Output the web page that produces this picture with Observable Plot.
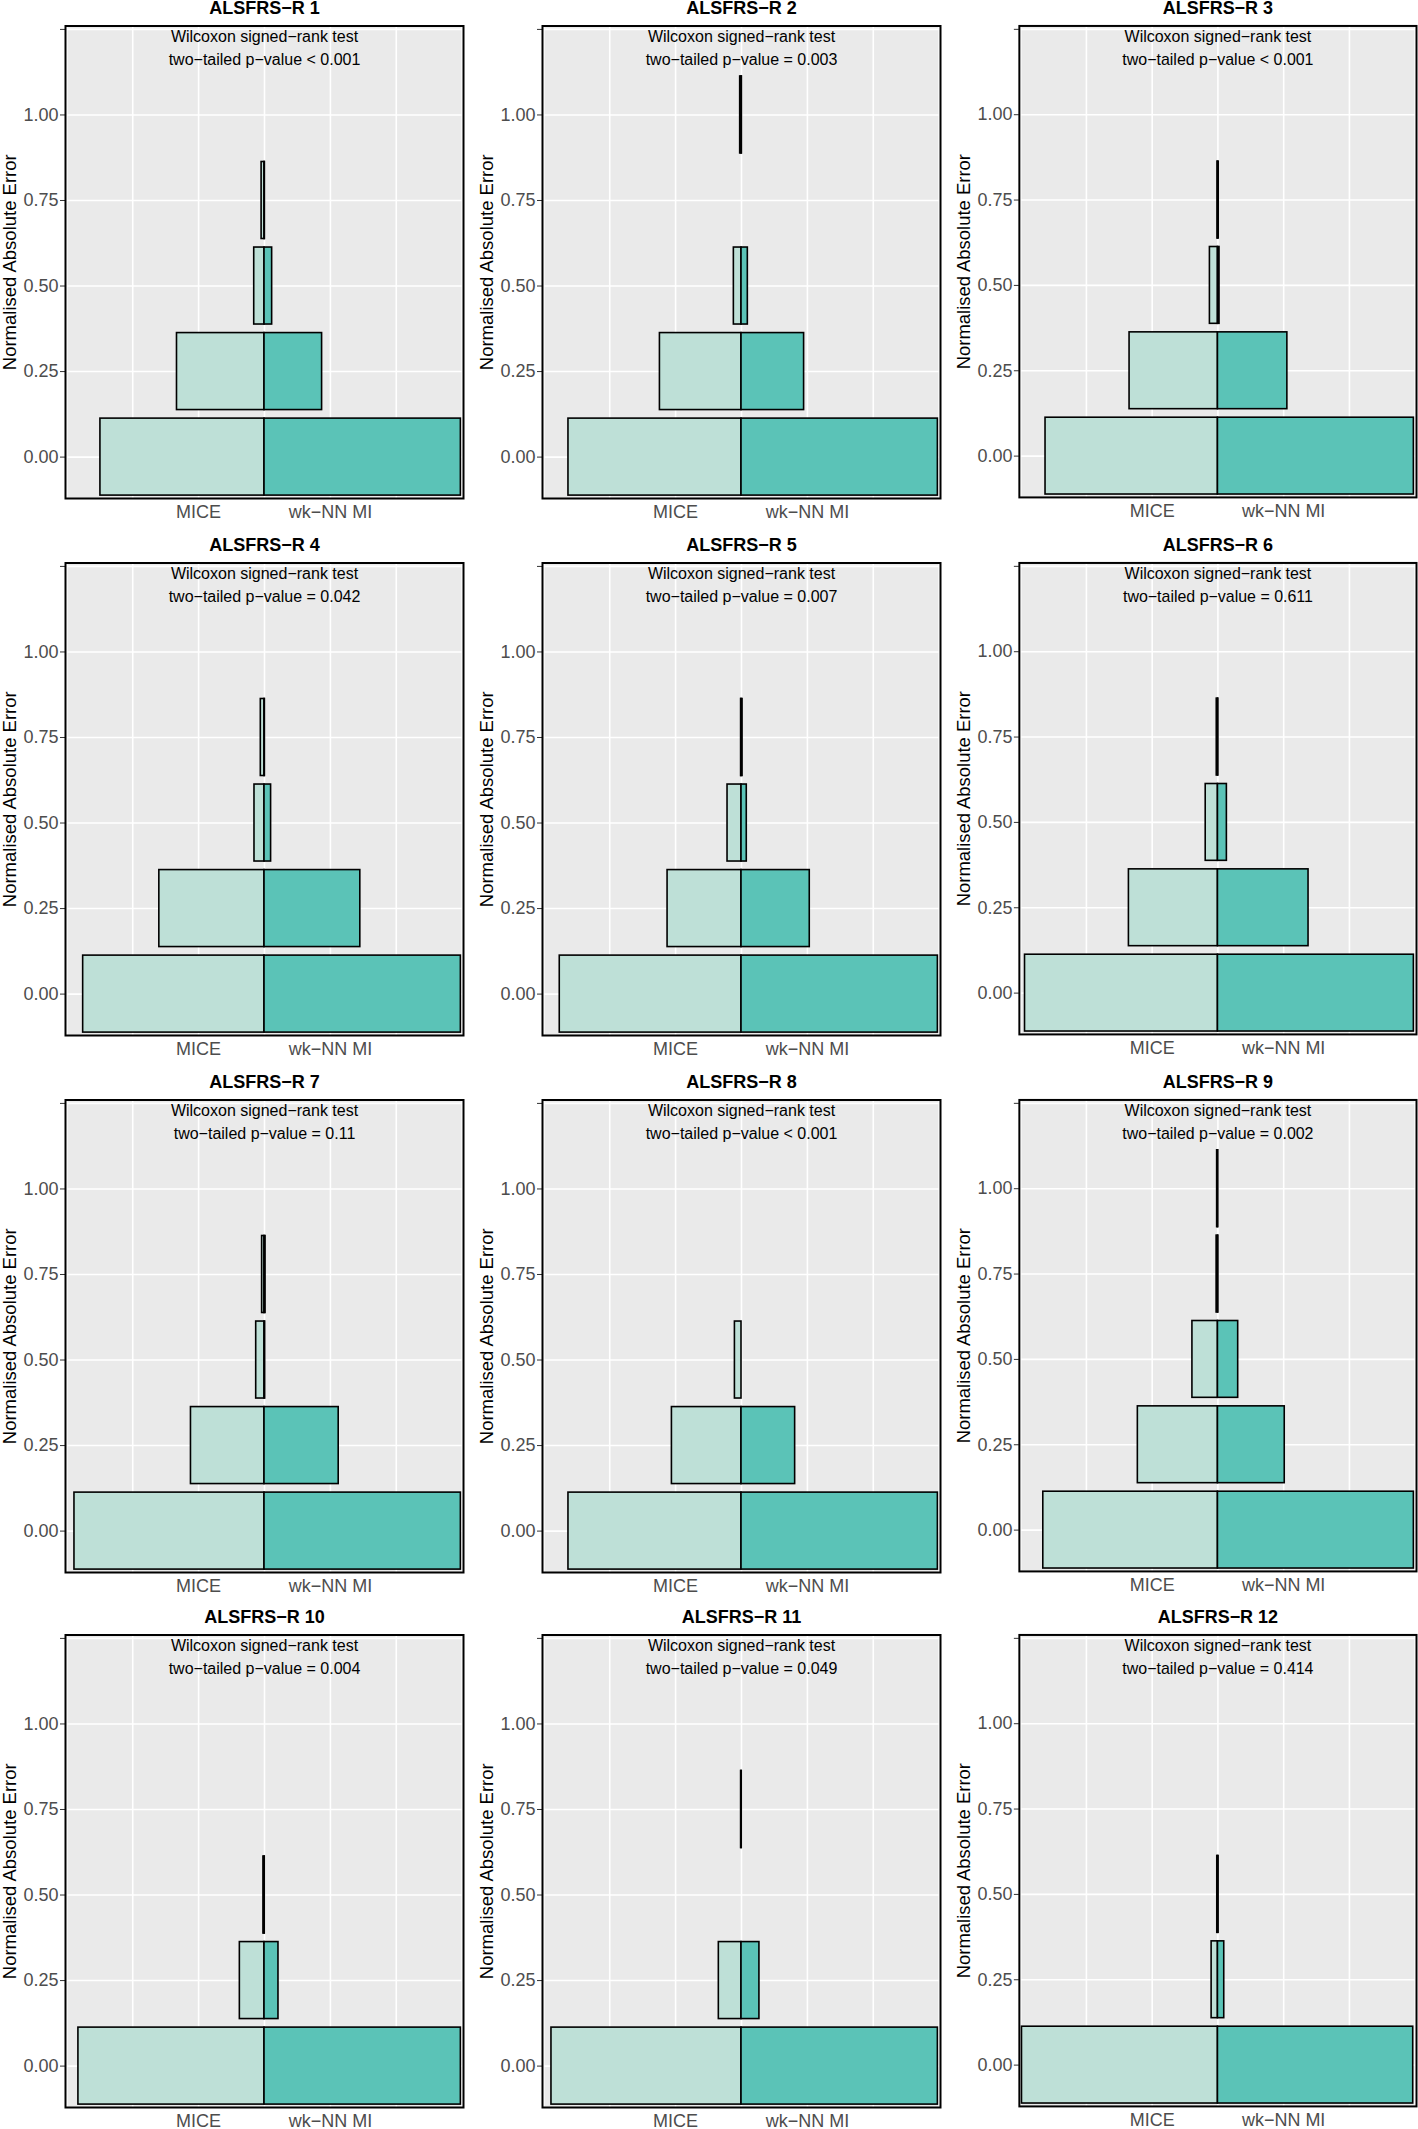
<!DOCTYPE html>
<html>
<head>
<meta charset="utf-8">
<script src="https://cdn.jsdelivr.net/npm/d3@7"></script>
<script src="https://cdn.jsdelivr.net/npm/@observablehq/plot@0.6"></script>
<style>
  html, body { margin: 0; padding: 0; background: #ffffff; width: 1418px; height: 2129px; overflow: hidden; }
  #root { position: relative; width: 1418px; height: 2129px; overflow: hidden; }
  .cell { position: absolute; }
</style>
</head>
<body>
<div id="root"></div>
<script>
// ---- data ----
const items = ["ALSFRS−R 1", "ALSFRS−R 2", "ALSFRS−R 3", "ALSFRS−R 4", "ALSFRS−R 5", "ALSFRS−R 6",
               "ALSFRS−R 7", "ALSFRS−R 8", "ALSFRS−R 9", "ALSFRS−R 10", "ALSFRS−R 11", "ALSFRS−R 12"];
const methods = ["MICE", "wk−NN MI"];
// error bins (bar centres on the y axis)
const bins = [0, 0.25, 0.5, 0.75, 1.0];
// half-widths of the mirrored bars (x-axis units; MICE/wk-NN MI ticks sit at ±0.5)
const miceWidth = [
  [1.245, 0.664, 0.078, 0.022, 0],
  [1.313, 0.619, 0.058, 0, 0.010],
  [1.311, 0.672, 0.061, 0.003, 0],
  [1.376, 0.798, 0.076, 0.028, 0],
  [1.379, 0.561, 0.106, 0.003, 0],
  [1.467, 0.677, 0.093, 0.009, 0],
  [1.442, 0.558, 0.063, 0.018, 0],
  [1.313, 0.528, 0.050, 0, 0],
  [1.328, 0.609, 0.194, 0.010, 0.006],
  [1.412, 0.187, 0.008, 0, 0],
  [1.442, 0.172, 0, 0.003, 0],
  [1.490, 0.048, 0.005, 0, 0]
];
const wknnWidth = [
  [1.490, 0.437, 0.058, 0.003, 0],
  [1.490, 0.475, 0.048, 0, 0.003],
  [1.490, 0.528, 0.012, 0.006, 0],
  [1.490, 0.727, 0.050, 0.003, 0],
  [1.490, 0.518, 0.040, 0.008, 0],
  [1.490, 0.689, 0.068, 0.003, 0],
  [1.490, 0.563, 0.005, 0.008, 0],
  [1.490, 0.407, 0, 0, 0],
  [1.490, 0.508, 0.154, 0.003, 0.002],
  [1.490, 0.106, 0.002, 0, 0],
  [1.490, 0.136, 0, 0.002, 0],
  [1.485, 0.048, 0.005, 0, 0]
];
const pValues = ["< 0.001", "= 0.003", "< 0.001", "= 0.042", "= 0.007", "= 0.611",
                 "= 0.11", "< 0.001", "= 0.002", "= 0.004", "= 0.049", "= 0.414"];
const testLabel = "Wilcoxon signed−rank test";
const yTicks = [0, 0.25, 0.5, 0.75, 1.0, 1.25];
const yTickLabels = ["0.00", "0.25", "0.50", "0.75", "1.00", ""];
const xTicks = [-0.5, 0.5];
const xGrid = [-1.5, -1, -0.5, 0, 0.5, 1, 1.5];
const yLabel = "Normalised Absolute Error";

// ---- layout ----
const binHalf = 0.1125;
const colLeft = [0, 476.7, 954];
const rowTop = [0.3, 537.2, 1073.8, 1609.3];
const panelH = 472.5;
const panelW = 398;
const mL = 65, mR = 2, mT = 25.5, mB = 50;
const font = "'Liberation Sans', Arial, Helvetica, sans-serif";

const root = document.getElementById("root");

items.forEach((item, i) => {
  const row = Math.floor(i / 3), col = i % 3;
  const rects = [];
  bins.forEach((b, j) => {
    if (miceWidth[i][j] > 0) rects.push({method: methods[0], w: -miceWidth[i][j], y1: b - binHalf, y2: b + binHalf});
    if (wknnWidth[i][j] > 0) rects.push({method: methods[1], w: wknnWidth[i][j], y1: b - binHalf, y2: b + binHalf});
  });
  const notes = [
    {y: 1.213, text: testLabel},
    {y: 1.147, text: `two−tailed p−value ${pValues[i]}`}
  ];
  const chart = Plot.plot({
    width: mL + panelW + mR,
    height: mT + panelH + mB,
    marginLeft: mL, marginRight: mR, marginTop: mT, marginBottom: mB,
    style: {fontFamily: font, fontSize: "18px", background: "transparent", overflow: "visible"},
    x: {domain: [-1.51, 1.51]},
    y: {domain: [-0.121, 1.26]},
    color: {domain: methods, range: ["#bee0d7", "#5bc3b7"]},
    marks: [
      Plot.frame({fill: "#eaeaea", stroke: null}),
      Plot.gridY(yTicks, {stroke: "#ffffff", strokeOpacity: 1, strokeWidth: 1.6}),
      Plot.gridX(xGrid, {stroke: "#ffffff", strokeOpacity: 1, strokeWidth: 1.6}),
      Plot.rect(rects, {x1: 0, x2: "w", y1: "y1", y2: "y2", fill: "method", stroke: "#000000", strokeWidth: 1.6}),
      Plot.text(notes, {x: 0, y: "y", text: "text", lineAnchor: "bottom", fontSize: 16, fill: "#000000"}),
      Plot.text([item], {frameAnchor: "top", lineAnchor: "bottom", dy: -12, fontSize: 18, fontWeight: "bold", fill: "#000000"}),
      Plot.axisY(yTicks, {tickFormat: d => yTickLabels[yTicks.indexOf(d)], tickSize: 5, tickPadding: 2,
        fontSize: 18, fill: "#4d4d4d", stroke: "#333333", label: null}),
      Plot.axisY([], {label: yLabel, labelAnchor: "center", labelOffset: 63, labelArrow: false,
        tickSize: 0, fontSize: 18.5, fill: "#000000"}),
      Plot.axisX(xTicks, {tickFormat: d => methods[xTicks.indexOf(d)], tickSize: 0, tickPadding: 7,
        fontSize: 18, fill: "#4d4d4d", label: null}),
      Plot.frame({stroke: "#000000", strokeWidth: 2})
    ]
  });
  const cell = document.createElement("div");
  cell.className = "cell";
  cell.style.left = colLeft[col] + "px";
  cell.style.top = rowTop[row] + "px";
  cell.appendChild(chart);
  root.appendChild(cell);
});
</script>
</body>
</html>
